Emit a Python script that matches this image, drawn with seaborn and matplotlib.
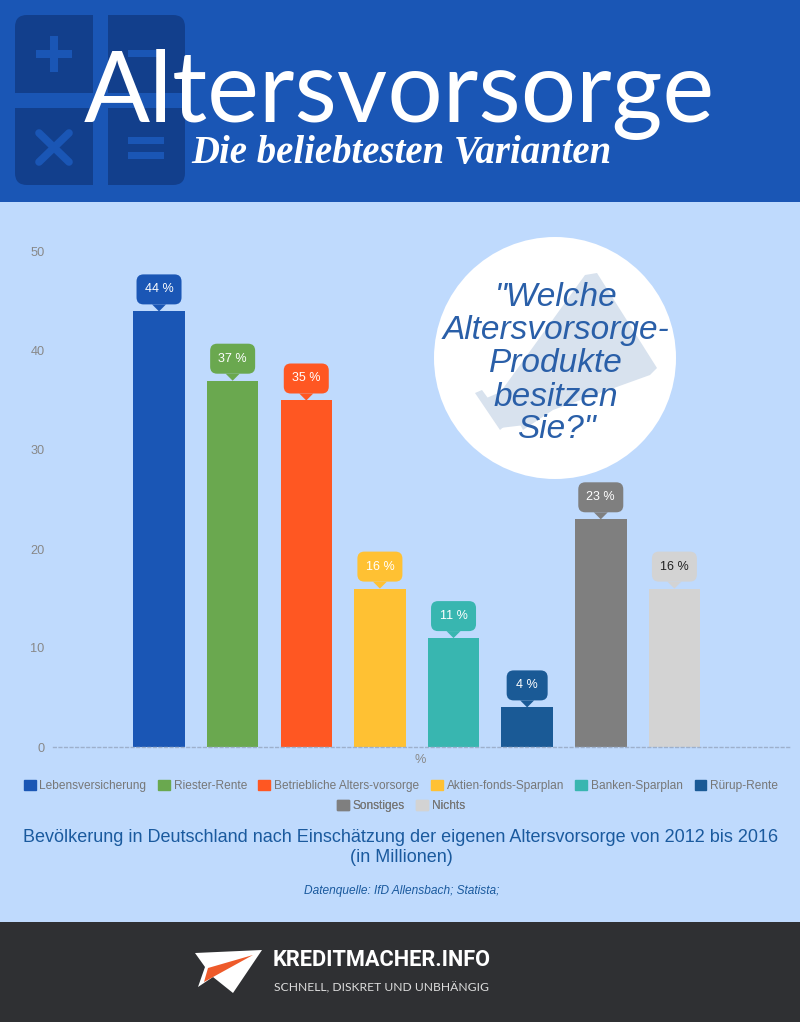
import matplotlib
matplotlib.use("Agg")
import matplotlib.pyplot as plt
import seaborn as sns
from matplotlib.patches import FancyBboxPatch, Circle, Polygon, Rectangle, Patch

# chart data
categories = ["Lebensversicherung", "Riester-Rente", "Betriebliche Alters-vorsorge", "Aktien-fonds-Sparplan",
              "Banken-Sparplan", "Rürup-Rente", "Sonstiges", "Nichts"]
values = [44, 37, 35, 16, 11, 4, 23, 16]
colors = ["#1a56b5", "#6aa84f", "#ff5722", "#ffc133", "#38b6b0", "#1a5a96", "#7f7f7f", "#d3d3d3"]
label_colors = ["white", "white", "white", "white", "white", "white", "white", "#222222"]
y_ticks = [0, 10, 20, 30, 40, 50]
question = ['"Welche', "Altersvorsorge-", "Produkte", "besitzen", 'Sie?"']

W, H = 800, 1022
BG = "#bfdafd"
HEAD = "#1a56b5"
sns.set_style("white")
plt.rcParams["font.family"] = ["Liberation Sans", "DejaVu Sans"]

fig = plt.figure(figsize=(W / 100, H / 100), dpi=100, facecolor=BG)

# background layer in pixel coordinates
bg = fig.add_axes([0, 0, 1, 1], zorder=0)
bg.set_xlim(0, W)
bg.set_ylim(H, 0)
bg.axis("off")
bg.add_patch(Rectangle((0, 0), W, 202, color=HEAD, lw=0))
bg.add_patch(Rectangle((0, 922), W, 100, color="#2f3033", lw=0))

# calculator icon
bg.add_patch(FancyBboxPatch((27, 27), 146, 146, boxstyle="round,pad=12,rounding_size=12",
                            color="#123f8c", lw=0))
bg.add_patch(Rectangle((93, 10), 15, 180, color=HEAD, lw=0))
bg.add_patch(Rectangle((10, 93), 180, 15, color=HEAD, lw=0))
bg.add_patch(Rectangle((36, 50), 36, 8, color=HEAD, lw=0))
bg.add_patch(Rectangle((50, 36), 8, 36, color=HEAD, lw=0))
bg.add_patch(Rectangle((128, 50), 36, 7, color=HEAD, lw=0))
bg.add_patch(Rectangle((128, 137), 36, 7, color=HEAD, lw=0))
bg.add_patch(Rectangle((128, 152), 36, 7, color=HEAD, lw=0))
bg.plot([39, 69], [133, 162], color=HEAD, lw=5.5)
bg.plot([69, 39], [133, 162], color=HEAD, lw=5.5)

# question circle with megaphone
bg.add_patch(Circle((555, 358), 121, color="white", lw=0))
bg.add_patch(Polygon([(585, 275), (597, 273), (657, 368), (650, 375), (553, 410), (523, 430), (502, 390)],
                     color="#d8e2ee", lw=0))
bg.add_patch(Polygon([(475, 393), (482, 390), (507, 424), (500, 430)], color="#d8e2ee", lw=0))
bg.add_patch(Polygon([(482, 400), (505, 390), (525, 425), (500, 428)], color="#d8e2ee", lw=0))

# bars
ax = fig.add_axes([53 / W, (H - 747) / H, 737 / W, 495 / H], zorder=1)
ax.patch.set_alpha(0)
sns.barplot(x=categories, y=values, hue=categories, palette=colors, dodge=False,
            width=0.7, saturation=1, legend=False, linewidth=0, edgecolor="none", ax=ax)
ax.set_xlim(-1.44, 8.57)
ax.set_ylim(0, 50)
ax.set_yticks(y_ticks)
ax.set_xticks([])
ax.tick_params(axis="y", length=0, pad=6, labelsize=9.2, labelcolor="#888888")
for side in ["top", "right", "left"]:
    ax.spines[side].set_visible(False)
ax.spines["bottom"].set_color("#9db0cc")
ax.spines["bottom"].set_linestyle((0, (2, 2)))
ax.spines["bottom"].set_linewidth(1)

# overlay for callouts and texts
top = fig.add_axes([0, 0, 1, 1], zorder=2)
top.set_xlim(0, W)
top.set_ylim(H, 0)
top.axis("off")

for i, (v, c, tc) in enumerate(zip(values, colors, label_colors)):
    px, py = ax.transData.transform((i, v))
    py = H - py
    label = f"{v} %"
    w = 45 if v >= 10 else 41
    top.add_patch(FancyBboxPatch((px - w / 2 + 7, py - 37 + 7), w - 14, 16,
                                 boxstyle="round,pad=7,rounding_size=7", color=c, lw=0))
    top.add_patch(Polygon([(px - 7, py - 7), (px + 7, py - 7), (px, py)], color=c, lw=0))
    top.text(px, py - 22, label, color=tc, fontsize=9, ha="center", va="center")

top.text(399, 122, "Altersvorsorge", color="white", fontsize=70.4, family="Lato", ha="center",
         va="baseline")
top.text(401, 163, "Die beliebtesten Varianten", color="white", fontsize=27.9, family="Liberation Serif",
         style="italic", weight="bold", ha="center", va="baseline")

for line, y in zip(question, [297, 330, 363, 397, 429]):
    top.text(556, y, line, color="#2a5fa8", fontsize=24, style="italic", ha="center", va="center")

top.text(420, 760, "%", color="#888888", fontsize=9.2, ha="center", va="center")

# two row legend
handles = [Patch(color=c, label=n) for n, c in zip(categories, colors)]
for hs, y in [(handles[:6], 786), (handles[6:], 806)]:
    top.add_artist(top.legend(handles=hs, loc="center", bbox_to_anchor=(401 / W, 1 - y / H), ncol=len(hs),
                              frameon=False, fontsize=8.6, labelcolor="#777777", handlelength=1.0,
                              handleheight=1.0, handletextpad=0.33, columnspacing=0.95,
                              borderpad=0, borderaxespad=0))

top.text(401, 838, "Bevölkerung in Deutschland nach Einschätzung der eigenen Altersvorsorge von 2012 bis 2016",
         color="#1a5a9e", fontsize=12.95, ha="center", va="center")
top.text(401, 857, "(in Millionen)", color="#1a5a9e", fontsize=12.95, ha="center", va="center")
top.text(402, 891, "Datenquelle: IfD Allensbach; Statista;", color="#1a5a9e", fontsize=8.55, style="italic",
         ha="center", va="center")

# footer logo
top.add_patch(Polygon([(195, 953), (262, 950), (233, 993), (213, 977), (198, 987), (205, 967)],
                      color="white", lw=0))
top.add_patch(Polygon([(253, 955), (208, 968), (204, 982)], color="#ee5a2a", lw=0))
top.text(273, 960, "KREDITMACHER.INFO", color="white", fontsize=15.7, family="Roboto",
         weight="bold", ha="left", va="center")
top.text(274, 988, "SCHNELL, DISKRET UND UNBHÄNGIG", color="#dddddd", fontsize=8.7, family="Lato",
         ha="left", va="center")

fig.savefig("out.png", dpi=100, facecolor=BG)
